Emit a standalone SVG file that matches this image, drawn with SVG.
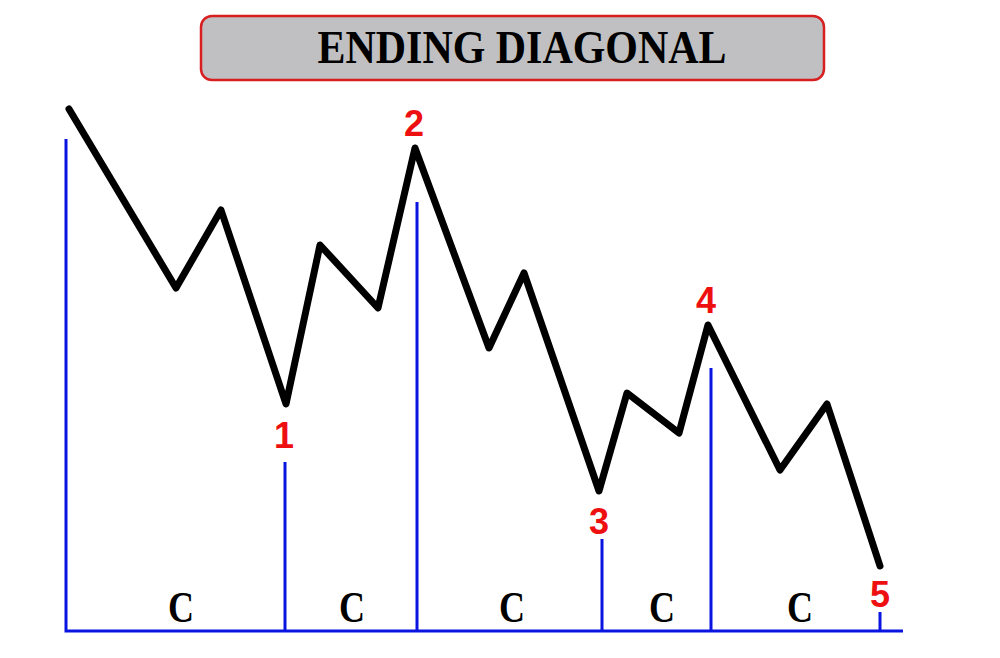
<svg xmlns="http://www.w3.org/2000/svg" width="1000" height="658" viewBox="0 0 1000 658">
<style>
.blue{stroke:#0a14e0;stroke-width:3;fill:none}
.wave{stroke:#000;stroke-width:7;fill:none;stroke-linejoin:round;stroke-linecap:round}
.num{font-family:"Liberation Sans",Arial,sans-serif;font-weight:bold;font-size:36px;fill:#ee1010;text-anchor:middle}
.c{font-family:"Liberation Serif","Times New Roman",serif;font-weight:bold;font-size:44px;fill:#000;text-anchor:middle}
</style>
<rect width="1000" height="658" fill="#fff"/>
<g id="title">
<rect x="201" y="16" width="623" height="64" rx="11" fill="#c0c0c2" stroke="#d81e1e" stroke-width="2.5"/>
<text x="522" y="63" font-family="Liberation Serif,'Times New Roman',serif" font-weight="bold" font-size="46" text-anchor="middle" textLength="409" lengthAdjust="spacingAndGlyphs">ENDING DIAGONAL</text>
</g>
<g id="connectors">
<path class="blue" d="M66,139V631H903"/>
<path class="blue" d="M285,462V631M417,202V631M602,539V631M711,368V631M880,612V631"/>
<path class="wave" d="M69,109L176,288L221,210L286,404L320,245L378,308L415,148L489,348L524,273L599,491L627,393L679,433L708,325L780,470L827,404L880,566"/>
</g>
<g id="labels">
<text class="num" x="284" y="448">1</text>
<text class="num" x="414" y="136">2</text>
<text class="num" x="599" y="534">3</text>
<text class="num" x="706" y="313">4</text>
<text class="num" x="880" y="607">5</text>
<text class="c" x="181" y="622" textLength="26" lengthAdjust="spacingAndGlyphs">C</text>
<text class="c" x="352" y="622" textLength="26" lengthAdjust="spacingAndGlyphs">C</text>
<text class="c" x="512" y="622" textLength="26" lengthAdjust="spacingAndGlyphs">C</text>
<text class="c" x="662" y="622" textLength="26" lengthAdjust="spacingAndGlyphs">C</text>
<text class="c" x="800" y="622" textLength="26" lengthAdjust="spacingAndGlyphs">C</text>
</g>
</svg>
